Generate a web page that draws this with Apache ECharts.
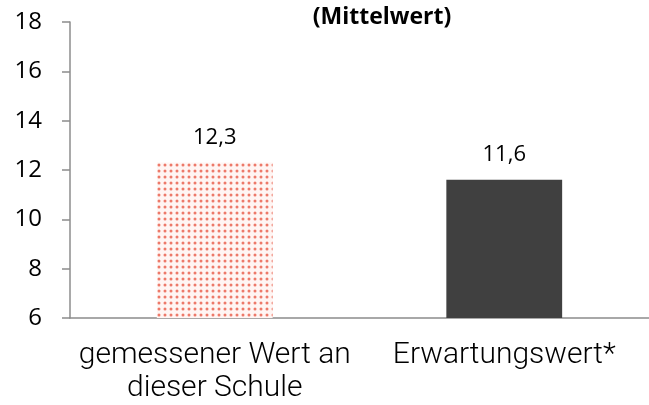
<!DOCTYPE html>
<html>
<head>
<meta charset="utf-8">
<script src="https://cdn.jsdelivr.net/npm/echarts@6/dist/echarts.min.js"></script>
<style>
  html, body { margin: 0; padding: 0; background: #fff; }
  #chart { width: 649px; height: 405px; }
</style>
</head>
<body>
<div id="chart"></div>
<script>
const categories = ["gemessener Wert an\ndieser Schule", "Erwartungswert*"];
const values = [12.3, 11.6];
const labels = ["12,3", "11,6"];
const yTicks = { min: 6, max: 18, interval: 2 };

// dotted fill for the school bar
function dotPattern() {
  const c = document.createElement("canvas");
  c.width = 6;
  c.height = 6;
  const ctx = c.getContext("2d");
  ctx.fillStyle = "#fff5f3";
  ctx.fillRect(0, 0, 6, 6);
  ctx.fillStyle = "rgba(232,90,70,0.8)";
  ctx.beginPath();
  ctx.arc(3, 3, 1.5, 0, Math.PI * 2);
  ctx.fill();
  return c;
}

const chart = echarts.init(document.getElementById("chart"));
chart.setOption({
  animation: false,
  title: {
    text: "(Mittelwert)",
    left: 377,
    textAlign: "center",
    top: 1,
    textStyle: { fontFamily: "Open Sans", fontWeight: "bold", fontSize: 23, color: "#000" }
  },
  grid: { left: 70, top: 22, bottom: 87, right: -9, containLabel: false },
  xAxis: {
    type: "category",
    data: categories,
    axisLine: { lineStyle: { color: "#8c8c8c", width: 1.5 } },
    axisTick: { length: 8, lineStyle: { color: "#8c8c8c", width: 1.5 } },
    axisLabel: {
      interval: 0,
      hideOverlap: false,
      margin: 21,
      fontFamily: "Roboto",
      fontWeight: 300,
      fontSize: 30,
      lineHeight: 33,
      color: "#000"
    }
  },
  yAxis: {
    type: "value",
    min: yTicks.min,
    max: yTicks.max,
    interval: yTicks.interval,
    splitLine: { show: false },
    axisLine: { show: true, lineStyle: { color: "#8c8c8c", width: 1.5 } },
    axisTick: { show: true, length: 8, lineStyle: { color: "#8c8c8c", width: 1.5 } },
    axisLabel: { margin: 28, fontFamily: "Open Sans", fontSize: 24, color: "#000" }
  },
  series: [{
    type: "bar",
    barWidth: "40%",
    data: values.map((v, i) => ({
      value: v,
      itemStyle: i === 0
        ? { color: { image: dotPattern(), repeat: "repeat" } }
        : { color: "#404040" }
    })),
    label: {
      show: true,
      position: "top",
      distance: 14,
      fontFamily: "Open Sans",
      fontSize: 22,
      color: "#000",
      formatter: p => labels[p.dataIndex]
    }
  }]
});
</script>
</body>
</html>
